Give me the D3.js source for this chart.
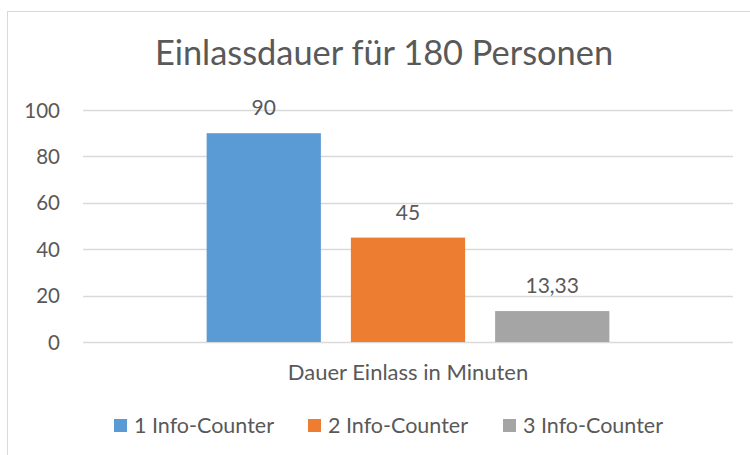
<!DOCTYPE html>
<html>
<head>
<meta charset="utf-8">
<script src="https://cdnjs.cloudflare.com/ajax/libs/d3/7.8.5/d3.min.js"></script>
<style>
  body { margin: 0; background: #fff; }
  text { font-family: Lato, "Open Sans", sans-serif; fill: #595959; }
</style>
</head>
<body>
<div id="chart"></div>
<script>
var svgWidth = 750, svgHeight = 455;

// data
var categories = ["Dauer Einlass in Minuten"];
var seriesNames = ["1 Info-Counter", "2 Info-Counter", "3 Info-Counter"];
var seriesValues = [90, 45, 13.33];
var seriesColors = ["#5B9BD5", "#ED7D31", "#A5A5A5"];
var yTicks = [0, 20, 40, 60, 80, 100];
var title = "Einlassdauer für 180 Personen";

var de = d3.formatLocale({decimal: ",", thousands: ".", grouping: [3], currency: ["", " €"]});
var fmt = function(v){ return Number.isInteger(v) ? String(v) : de.format(".2f")(v); };

var plot = {left: 83, right: 733, top: 110, bottom: 342};

var svg = d3.select("#chart")
  .append("svg")
  .attr("width", svgWidth)
  .attr("height", svgHeight);

// chart border (cut off at right/bottom in the original)
svg.append("rect")
  .attr("x", 7.5).attr("y", 11.5)
  .attr("width", 760).attr("height", 460)
  .attr("fill", "none")
  .attr("stroke", "#D9D9D9");

svg.append("text")
  .attr("x", 384).attr("y", 65)
  .attr("text-anchor", "middle")
  .attr("font-size", 34.4)
  .text(title);

var y = d3.scaleLinear().domain([0, 100]).range([plot.bottom, plot.top]);

var x0 = d3.scaleBand().domain(categories)
  .range([plot.left, plot.right])
  .paddingInner(0).paddingOuter(0.307);

var x1 = d3.scaleBand().domain(seriesNames)
  .range([0, x0.bandwidth()])
  .paddingInner(0.208).paddingOuter(0);

// gridlines
svg.append("g")
  .selectAll("line")
  .data(yTicks)
  .enter()
  .append("line")
  .attr("x1", plot.left).attr("x2", plot.right)
  .attr("y1", d => Math.round(y(d)) + 0.5)
  .attr("y2", d => Math.round(y(d)) + 0.5)
  .attr("stroke", "#D9D9D9")
  .attr("stroke-width", 1.3);

// y axis labels
svg.append("g")
  .selectAll("text")
  .data(yTicks)
  .enter()
  .append("text")
  .attr("x", 60)
  .attr("y", d => y(d) + 7.5)
  .attr("text-anchor", "end")
  .attr("font-size", 20.5)
  .text(d => d);

var groups = svg.selectAll("g.cat")
  .data(categories)
  .enter()
  .append("g")
  .attr("class", "cat")
  .attr("transform", d => "translate(" + x0(d) + ",0)");

var barData = seriesNames.map((s, i) => ({name: s, value: seriesValues[i], color: seriesColors[i]}));

groups.selectAll("rect")
  .data(barData)
  .enter()
  .append("rect")
  .attr("x", d => x1(d.name))
  .attr("y", d => y(d.value))
  .attr("width", x1.bandwidth())
  .attr("height", d => y(0) - y(d.value))
  .attr("fill", d => d.color);

groups.selectAll("text.val")
  .data(barData)
  .enter()
  .append("text")
  .attr("class", "val")
  .attr("x", d => x1(d.name) + x1.bandwidth() / 2)
  .attr("y", d => y(d.value) - 18)
  .attr("text-anchor", "middle")
  .attr("font-size", 21)
  .text(d => fmt(d.value));

// category label
svg.selectAll("text.cat")
  .data(categories)
  .enter()
  .append("text")
  .attr("class", "cat")
  .attr("x", d => x0(d) + x0.bandwidth() / 2)
  .attr("y", 380)
  .attr("text-anchor", "middle")
  .attr("font-size", 22)
  .text(d => d);

// legend
var legendX = [114, 308, 503];
var legend = svg.append("g")
  .selectAll("g")
  .data(barData)
  .enter()
  .append("g")
  .attr("transform", (d, i) => "translate(" + legendX[i] + ",419)");

legend.append("rect")
  .attr("width", 13).attr("height", 13)
  .attr("fill", d => d.color);

legend.append("text")
  .attr("x", 20).attr("y", 14.3)
  .attr("font-size", 21.5)
  .text(d => d.name);
</script>
</body>
</html>
